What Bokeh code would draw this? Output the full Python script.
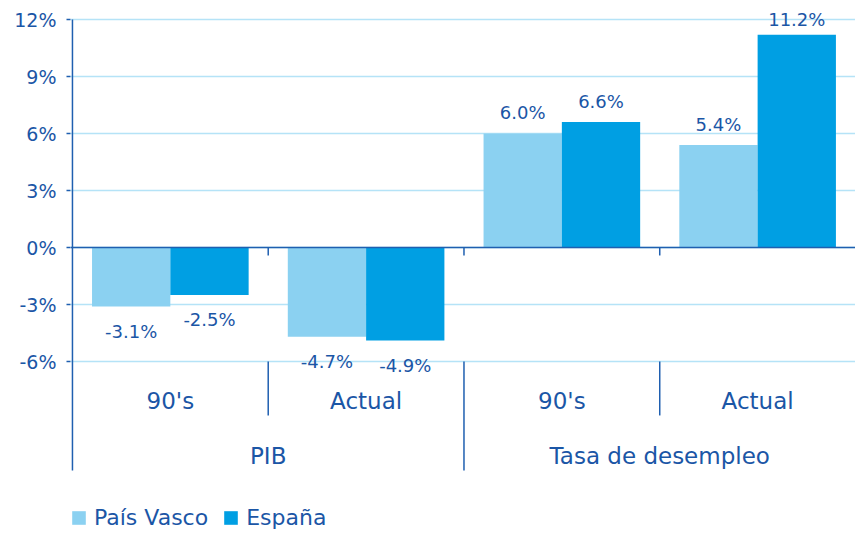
from bokeh.plotting import figure
from bokeh.models import (Range1d, FixedTicker, ColumnDataSource, Legend, LegendItem,
                          CustomJSTickFormatter)
from bokeh.core.properties import value
from bokeh.embed import file_html
from bokeh.resources import INLINE
import numpy as np

groups = ["PIB", "PIB", "Tasa de desempleo", "Tasa de desempleo"]
periods = ["90's", "Actual", "90's", "Actual"]
group_names = ["PIB", "Tasa de desempleo"]
pais_vasco = [-3.1, -4.7, 6.0, 5.4]
espana = [-2.5, -4.9, 6.6, 11.2]
series_names = ["País Vasco", "España"]
y_ticks = [-6, -3, 0, 3, 6, 9, 12]

FONT = "DejaVu Sans"
TXT = "#1b56a6"
AXC = "#1f5fb0"
C_LIGHT = "#8bd1f1"
C_DARK = "#009fe3"
GRID = "#b5e3f7"

Y_TOP = 13.0
Y_BOT = -15.0

p = figure(width=855, height=532, x_range=Range1d(-0.01, 4), y_range=Range1d(Y_BOT, Y_TOP),
           output_backend="svg", toolbar_location=None,
           min_border_left=70, min_border_right=0, min_border_top=0, min_border_bottom=0)
p.outline_line_color = None
p.xaxis.visible = False
p.xgrid.visible = False

yax = p.yaxis[0]
yax.ticker = FixedTicker(ticks=y_ticks)
yax.formatter = CustomJSTickFormatter(code="return tick.toFixed(0) + '%';")
yax.axis_line_color = None
yax.major_tick_line_color = AXC
yax.major_tick_line_width = 1.5
yax.major_tick_out = 4
yax.major_tick_in = 0
yax.minor_tick_line_color = None
yax.major_label_text_font = FONT
yax.major_label_text_font_size = "19px"
yax.major_label_text_color = TXT
yax.major_label_standoff = 10

p.ygrid.ticker = FixedTicker(ticks=y_ticks)
p.ygrid.grid_line_color = GRID
p.ygrid.grid_line_width = 1.5

n = len(periods)
centers = np.arange(n) + 0.5
bw = 0.4
src = ColumnDataSource(dict(
    xl=centers - bw / 2, xd=centers + bw / 2,
    pv=pais_vasco, es=espana,
))
r1 = p.vbar(x="xl", top="pv", bottom=0, width=bw, source=src, fill_color=C_LIGHT, line_color=None)
r2 = p.vbar(x="xd", top="es", bottom=0, width=bw, source=src, fill_color=C_DARK, line_color=None)

# zero line (starts slightly left of axis like the reference tick cross)
p.segment(x0=[-0.01], x1=[4], y0=[0], y1=[0], line_color=AXC, line_width=1.5)
# y axis line
p.segment(x0=[0], x1=[0], y0=[12], y1=[-11.74], line_color=AXC, line_width=1.5)
# small ticks on zero line at category boundaries
p.segment(x0=[1, 2, 3], x1=[1, 2, 3], y0=[0, 0, 0], y1=[-0.42] * 3, line_color=AXC, line_width=1.5)
# separators in category axis
p.segment(x0=[1, 3], x1=[1, 3], y0=[-6, -6], y1=[-8.84, -8.84], line_color=AXC, line_width=1.5)
p.segment(x0=[2], x1=[2], y0=[-6], y1=[-11.74], line_color=AXC, line_width=1.5)

# data labels
def label_pos(vals):
    vals = np.array(vals, dtype=float)
    y = np.where(vals >= 0, np.minimum(vals + 1.1, 12.0), vals - 1.3)
    return y

fmt = lambda vals: ["%.1f%%" % v for v in vals]
lab = ColumnDataSource(dict(
    x=list(centers - bw / 2) + list(centers + bw / 2),
    y=list(label_pos(pais_vasco)) + list(label_pos(espana)),
    t=fmt(pais_vasco) + fmt(espana),
))
p.text(x="x", y="y", text="t", source=lab, text_align="center", text_baseline="middle",
       text_font=value(FONT), text_font_size="18px", text_color=TXT)

# category labels
p.text(x=list(centers), y=[-8.1] * n, text=periods, text_align="center", text_baseline="middle",
       text_font=value(FONT), text_font_size="23px", text_color=TXT)
p.text(x=[1, 3], y=[-10.95, -10.95], text=group_names, text_align="center", text_baseline="middle",
       text_font=value(FONT), text_font_size="23px", text_color=TXT)

legend = Legend(items=[LegendItem(label=series_names[0], renderers=[r1]),
                       LegendItem(label=series_names[1], renderers=[r2])],
                orientation="horizontal", location=(0, 2))
legend.border_line_color = None
legend.background_fill_alpha = 0
legend.margin = 0
legend.padding = 0
legend.spacing = 14
legend.glyph_width = 17
legend.glyph_height = 17
legend.label_standoff = 7
legend.label_text_font = FONT
legend.label_text_font_size = "22px"
legend.label_text_color = TXT
p.add_layout(legend, "center")

open("out.html", "w").write(file_html(p, INLINE))
